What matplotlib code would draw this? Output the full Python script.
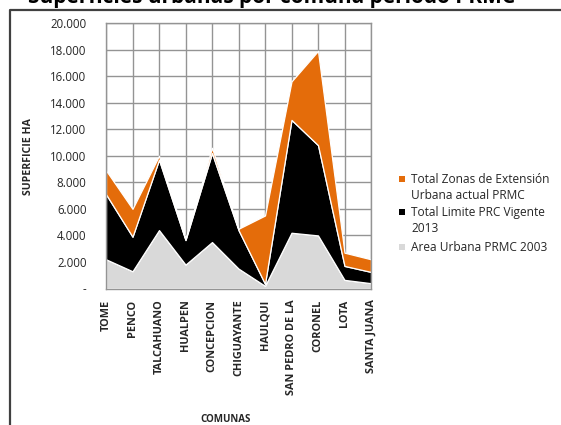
import matplotlib
matplotlib.use("Agg")
import matplotlib.pyplot as plt
from matplotlib.lines import Line2D
from matplotlib.patches import Rectangle
import numpy as np

plt.rcParams['font.family'] = ['Open Sans', 'DejaVu Sans']

# Communes of the metropolitan area
comunas = ["TOME", "PENCO", "TALCAHUANO", "HUALPEN", "CONCEPCION", "CHIGUAYANTE",
           "HAULQUI", "SAN PEDRO DE LA", "CORONEL", "LOTA", "SANTA JUANA"]

# Surface (ha) of each stacked layer
area_urbana_2003 = [2200, 1300, 4400, 1800, 3500, 1500, 200, 4200, 4000, 650, 400]
limite_prc_2013 = [4900, 2600, 5300, 1850, 6700, 2900, 150, 8500, 6800, 1050, 850]
zonas_extension = [1800, 2100, 300, 100, 400, 100, 5150, 2900, 7100, 1000, 950]

series_labels = ["Total Zonas de Extensión\nUrbana actual PRMC",
                 "Total Limite PRC Vigente\n2013",
                 "Area Urbana PRMC 2003"]

y_ticks = [0, 2000, 4000, 6000, 8000, 10000, 12000, 14000, 16000, 18000, 20000]
y_tick_labels = ["-", "2.000", "4.000", "6.000", "8.000", "10.000", "12.000",
                 "14.000", "16.000", "18.000", "20.000"]

C_GRAY = "#d9d9d9"
C_BLACK = "#000000"
C_ORANGE = "#e46c0a"
TXT = "#262626"

W, H = 561, 425
fig = plt.figure(figsize=(W / 100, H / 100), dpi=100)

def fx(px):
    return px / W

def fy(py):
    return 1 - py / H

ax = fig.add_axes([fx(106), fy(288.5), fx(371) - fx(106), fy(23) - fy(288.5)])
x = np.arange(len(comunas))

ax.stackplot(x, area_urbana_2003, limite_prc_2013, zonas_extension,
             colors=[C_GRAY, C_BLACK, C_ORANGE], edgecolor="white",
             linewidth=0.9, zorder=2)

ax.set_xlim(0, len(comunas) - 1)
ax.set_ylim(0, 20000)
ax.set_yticks(y_ticks)
ax.set_yticklabels(y_tick_labels, fontsize=8.3, color=TXT)
ax.set_xticks(x)
ax.set_xticklabels(comunas, rotation=90, fontsize=7.8, fontweight="bold",
                   color=TXT, va="top")
ax.tick_params(axis="y", length=0, pad=14)
ax.tick_params(axis="x", length=0, pad=8)
ax.grid(True, color="#949494", linewidth=1.0, zorder=1)
ax.set_axisbelow(True)
for s in ax.spines.values():
    s.set_color("#949494")
    s.set_linewidth(1.0)

fig.text(fx(29), fy(157), "SUPERFICIE HA", rotation=90, ha="center", va="center",
         fontsize=7.6, fontweight="bold", color=TXT)
fig.text(fx(226), fy(419), "COMUNAS", ha="center", va="center",
         fontsize=7, fontweight="bold", color=TXT)

# Legend drawn beside the plot area
legend_rows = [(179, C_ORANGE), (212, C_BLACK), (247, C_GRAY)]
for (py, col), lab in zip(legend_rows, series_labels):
    fig.add_artist(Rectangle((fx(399), fy(py + 3)), fx(6), 6 / H,
                             transform=fig.transFigure, facecolor=col,
                             edgecolor="none"))
    lines = lab.split("\n")
    for k, line in enumerate(lines):
        fig.text(fx(411), fy(py + 4 + 16 * k), line, ha="left", va="baseline",
                 fontsize=8.6, color=TXT)

# Outer frame
fig.add_artist(Line2D([fx(10), fx(10), fx(561)], [0, fy(10), fy(10)],
                      transform=fig.transFigure, color="#404040", linewidth=1.6))

# Heading (its upper part lies outside the figure)
fig.text(fx(272), fy(3), "Superficies urbanas por comuna periodo PRMC",
         ha="center", va="baseline", fontsize=15, fontweight="bold", color="black")

fig.savefig("out.png", dpi=100)
